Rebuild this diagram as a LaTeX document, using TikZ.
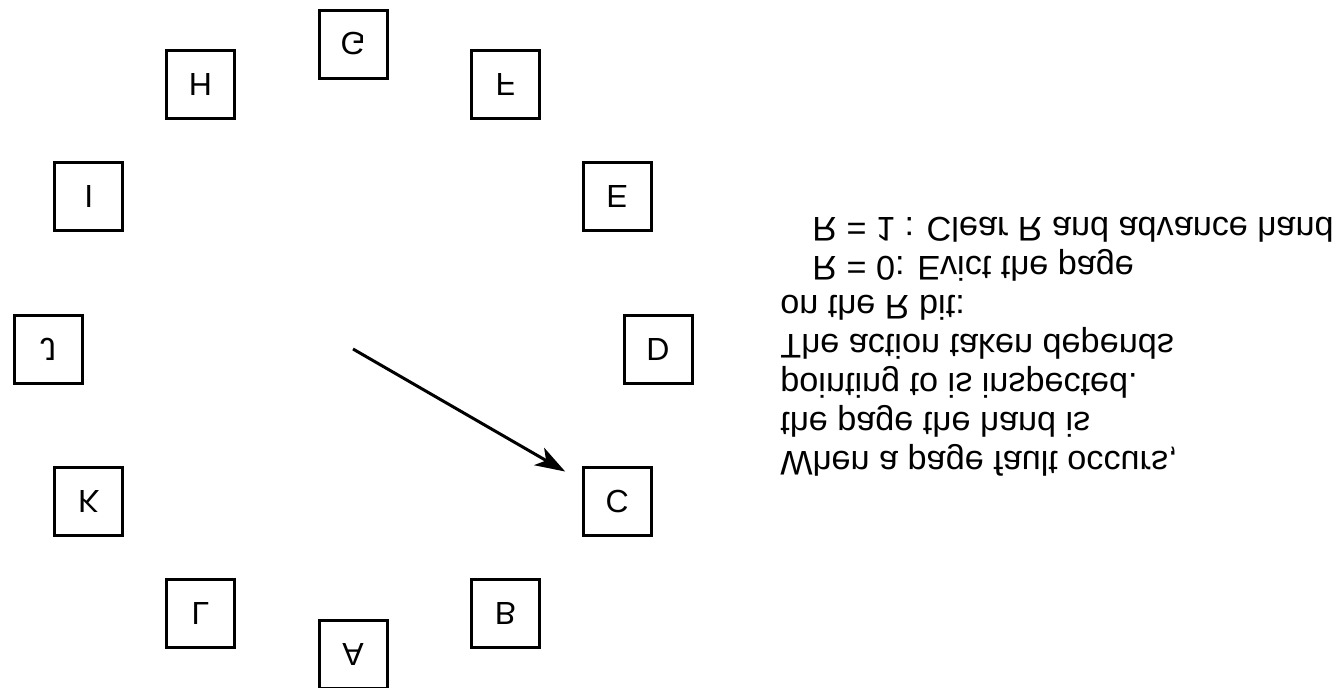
\documentclass[tikz,border=0pt]{standalone}
\usepackage{fontspec}
\setmainfont{Liberation Sans}
\usetikzlibrary{arrows.meta}

\begin{document}
\begin{tikzpicture}[x=0.5pt,y=0.5pt,yscale=-1,transform shape,
    page/.style={draw,line width=1.5pt,minimum size=34pt,inner sep=0pt,font=\fontsize{16}{18}\selectfont},
    hand/.style={line width=1.5pt,-{Stealth[length=15pt,width=10pt,inset=4pt]},shorten >=9.5pt},
    note/.style={anchor=base west,inner sep=0pt,font=\fontsize{17.1}{20}\selectfont}]
  \useasboundingbox (0,0) rectangle (1341,687);

  % clock of pages
  \coordinate (hub) at (353,349);
  \foreach \name [count=\i from 0] in {A,B,C,D,E,F,G,H,I,J,K,L}
    \node[page] (\name) at ([shift={({90-30*\i}:305)}]hub) {\name};

  % the hand
  \draw[hand] (hub) -- (C);

  % what happens on a fault
  \node[note] (l1) at (780,451) {When a page fault occurs,};
  \node[note] (l2) at (780,412) {the page the hand is};
  \node[note] (l3) at (780,373) {pointing to is inspected.};
  \node[note] (l4) at (780,334) {The action taken depends};
  \node[note] (l5) at (780,295) {on the R bit:};
  \node[note] (l6) at (812,256) {R = 0: Evict the page};
  \node[note] (l7) at (812,217) {R = 1 : Clear R and advance hand};

\end{tikzpicture}
\end{document}
